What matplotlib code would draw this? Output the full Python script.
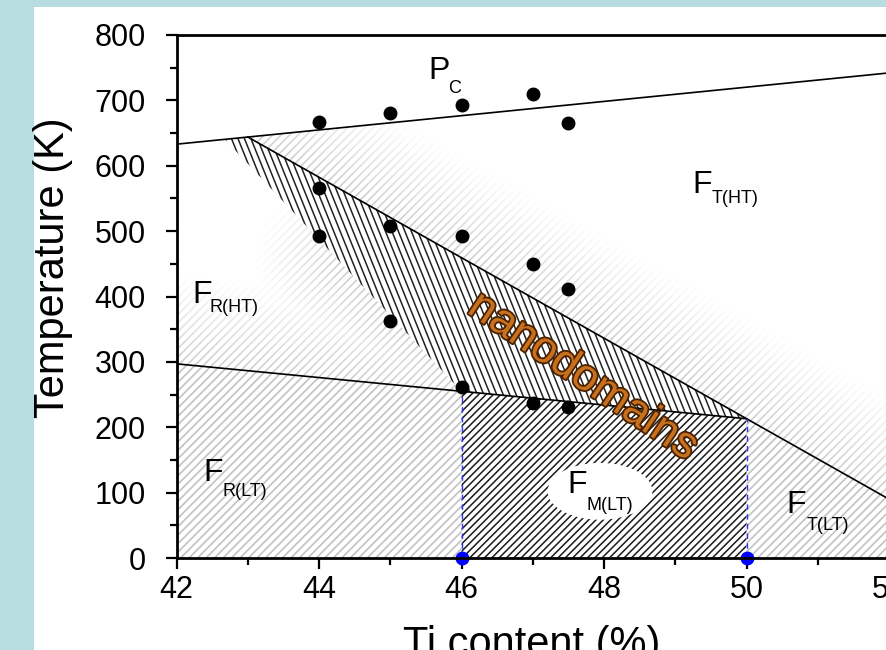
import numpy as np
import matplotlib
matplotlib.use("Agg")
import matplotlib.pyplot as plt
import matplotlib.patches as patches
import matplotlib.patheffects as pe
from matplotlib.collections import LineCollection

plt.rcParams['font.family'] = ['Liberation Sans', 'DejaVu Sans']

# phase boundaries (Ti content %, temperature K)
pc_x = [42.0, 52.0]          # paraelectric cubic boundary
pc_T = [633, 742]
lt_x = [42.0, 50.0]          # low temperature boundary (R and M)
lt_T = [297, 213]
ft_x = [43.0, 52.0]          # upper edge of nanodomain band / T(LT)
ft_T = [644, 90]
edge_x = [42.68, 46.0]       # lower-left edge of nanodomain band
edge_T = [640, 255]

# measured transition points
pts_x = [44, 45, 46, 47, 47.5, 44, 44, 45, 46, 47, 47.5, 45, 46, 47, 47.5]
pts_T = [667, 681, 693, 710, 665, 566, 493, 508, 493, 450, 411, 362, 261, 237, 231]

# monoclinic range marked on the axis
mono_x = [46, 50]
mono_top = [258, 213]


def line_at(xs, Ts, x):
    return Ts[0] + (Ts[1] - Ts[0]) * (x - xs[0]) / (xs[1] - xs[0])


fig = plt.figure(figsize=(8.86, 6.5), dpi=100, facecolor='#b7dde0')
fig.add_artist(patches.Rectangle((34 / 886, 0), 1, 1 - 7 / 650, transform=fig.transFigure,
                                 facecolor='white', edgecolor='none', zorder=0))
ax = fig.add_axes([176.5 / 886, 1 - 558 / 650, 712.5 / 886, 523 / 650])
ax.set_facecolor('white')

W = 712.5
H = 523.0
sx = W / 10.0
sy = H / 800.0


def hatch(clip, angle, step, color, lw, z):
    th = np.deg2rad(angle)
    d = np.array([np.cos(th), np.sin(th)])
    n = np.array([-np.sin(th), np.cos(th)])
    L = np.hypot(W, H)
    c0 = np.array([W / 2, H / 2])
    segs = []
    for k in np.arange(-L, L, step):
        c = c0 + k * n
        p0 = c - L * d
        p1 = c + L * d
        segs.append([(p0[0] / W, p0[1] / H), (p1[0] / W, p1[1] / H)])
    lc = LineCollection(segs, colors=color, linewidths=lw, transform=ax.transAxes, zorder=z)
    ax.add_collection(lc, autolim=False)
    lc.set_clip_path(clip)


def seg_dist(px, py, a, b):
    vx, vy = b[0] - a[0], b[1] - a[1]
    t = np.clip(((px - a[0]) * vx + (py - a[1]) * vy) / (vx * vx + vy * vy), 0, 1)
    return np.hypot(px - a[0] - t * vx, py - a[1] - t * vy)


def to_px(x, T):
    return ((x - 42) * sx, T * sy)


def fade(clip, segments, span, z):
    xs = np.linspace(42, 52, 500)
    Ts = np.linspace(0, 800, 500)
    X, Y = np.meshgrid(xs, Ts)
    px, py = to_px(X, Y)
    d = np.min([seg_dist(px, py, to_px(*a), to_px(*b)) for a, b in segments], axis=0)
    img = np.ones((500, 500, 4))
    img[..., 3] = np.clip(0.2 + d / span, 0, 1)
    im = ax.imshow(img, extent=(42, 52, 0, 800), origin='lower', aspect='auto',
                   interpolation='bilinear', zorder=z)
    im.set_clip_path(clip)


# key vertices
A = (edge_x[0], line_at(pc_x, pc_T, edge_x[0]))
B = (ft_x[0], line_at(pc_x, pc_T, ft_x[0]))
C = (mono_x[1], line_at(lt_x, lt_T, mono_x[1]))
D = (mono_x[0], line_at(lt_x, lt_T, mono_x[0]))

# light background hatch below the cubic line
below_pc = patches.Polygon([(42, 0), (52, 0), (52, pc_T[1]), (42, pc_T[0])],
                           closed=True, transform=ax.transData)
hatch(below_pc, 45, 6.0, '#c2c2c2', 1.2, 1)

# fade of the hatch inside the high temperature regions
left_reg = patches.Polygon([(42, pc_T[0]), A, D, (42, lt_T[0])], closed=True, transform=ax.transData)
fade(left_reg, [((42, lt_T[0]), D), (((A[0] + D[0]) / 2, (A[1] + D[1]) / 2), D)], 110, 2)
right_reg = patches.Polygon([B, (52, pc_T[1]), (52, ft_T[1])], closed=True, transform=ax.transData)
fade(right_reg, [(B, (52, ft_T[1]))], 110, 2)

# nanodomain band
band = patches.Polygon([A, B, C, D], closed=True, facecolor='white', edgecolor='none', zorder=3)
ax.add_patch(band)
hatch(band, 112, 6.0, '#222222', 1.1, 4)

# monoclinic region
mono = patches.Polygon([(mono_x[0], 0), (mono_x[1], 0), C, D], closed=True,
                       facecolor='white', edgecolor='none', zorder=3)
ax.add_patch(mono)
hatch(mono, 45, 5.2, '#1a1a1a', 1.1, 4)

# boundary lines
ax.plot(pc_x, pc_T, color='black', lw=1.2, zorder=6)
ax.plot(lt_x, lt_T, color='black', lw=1.2, zorder=6)
ax.plot(ft_x, ft_T, color='black', lw=1.2, zorder=6)

for xm, tm in zip(mono_x, mono_top):
    ax.plot([xm, xm], [0, tm], color='#3333ee', lw=1.0, ls=(0, (4, 3)), zorder=6)

ax.plot(pts_x, pts_T, 'o', color='black', ms=9, zorder=7)
ax.plot(mono_x, [0, 0], 'o', color='#0000ff', ms=9, zorder=8, clip_on=False)

ax.add_patch(patches.Ellipse((47.944, 102), 1.47, 87, facecolor='white', edgecolor='none', zorder=5))


def region_label(x, T, main, sub, xs, Ts):
    ax.text(x, T, main, fontsize=23, ha='left', va='baseline', zorder=9)
    ax.text(xs, Ts, sub, fontsize=13, ha='left', va='baseline', zorder=9)


region_label(45.53, 733, 'P', 'C', 45.81, 711)
region_label(49.235, 558, 'F', 'T(HT)', 49.516, 543)
region_label(42.218, 390, 'F', 'R(HT)', 42.47, 376)
region_label(42.372, 118, 'F', 'R(LT)', 42.639, 95)
region_label(47.481, 99, 'F', 'M(LT)', 47.76, 73)
region_label(50.554, 69, 'F', 'T(LT)', 50.85, 43)

ax.text(47.705, 277, 'nanodomains', fontsize=32, color='#c8701e', rotation=-34,
        rotation_mode='anchor', ha='center', va='center', zorder=9,
        path_effects=[pe.withStroke(linewidth=2.6, foreground='#4a2200')])

ax.set_xlim(42, 52)
ax.set_ylim(0, 800)
ax.set_xticks(range(42, 53, 2))
ax.set_xticks(range(43, 52, 2), minor=True)
ax.set_yticks(range(0, 801, 100))
ax.set_yticks(range(50, 800, 100), minor=True)
ax.tick_params(which='both', direction='out', width=1.6, top=False, right=False, labelsize=22)
ax.tick_params(axis='y', which='major', length=8, pad=14)
ax.tick_params(axis='x', which='major', length=8, pad=4)
ax.tick_params(which='minor', length=5)
for s in ax.spines.values():
    s.set_linewidth(2.0)
    s.set_zorder(10)

fig.text(53 / 886, 1 - 268 / 650, 'Temperature (K)', rotation=90, fontsize=30,
         ha='center', va='center')
fig.text(532 / 886, 1 - 625 / 650, 'Ti content (%)', fontsize=30, ha='center', va='top')

fig.savefig('out.png', dpi=100, facecolor=fig.get_facecolor())
